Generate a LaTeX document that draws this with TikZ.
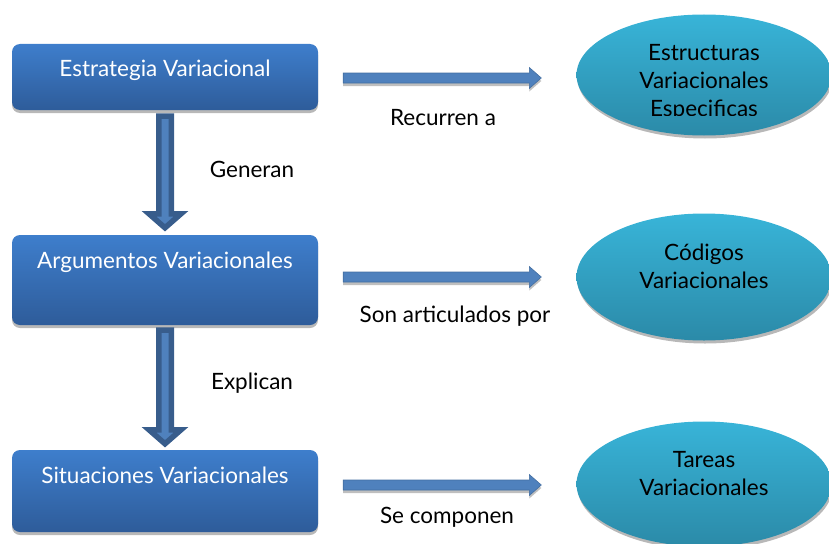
\documentclass[tikz,border=0pt]{standalone}
\usepackage{fontspec}
\setmainfont{Lato}
\usetikzlibrary{calc,shadows,shapes.geometric}
\definecolor{boxtop}{RGB}{62,126,204}
\definecolor{boxbot}{RGB}{46,92,154}
\definecolor{elltop}{RGB}{56,180,216}
\definecolor{ellbot}{RGB}{43,138,168}
\definecolor{arrfill}{RGB}{79,129,189}
\definecolor{arrdraw}{RGB}{56,93,140}
\tikzset{
  vbox/.style={rectangle, rounded corners=8pt, minimum width=306pt, inner sep=0pt,
    top color=boxtop, bottom color=boxbot, draw=none,
    drop shadow={shadow xshift=0pt, shadow yshift=-3pt, fill=black!28, opacity=1}},
  boxtext/.style={text=white, font=\fontsize{22.5}{27}\selectfont, inner sep=0pt},
  ell/.style={ellipse, minimum width=255pt, inner sep=0pt,
    top color=elltop, bottom color=ellbot, draw=none,
    drop shadow={shadow xshift=1pt, shadow yshift=-3pt, fill=black!28, opacity=1}},
  elltext/.style={text=black, align=center, font=\fontsize{22.5}{28}\selectfont, inner sep=0pt, anchor=north},
  lbl/.style={text=black, font=\fontsize{22.5}{27}\selectfont, inner sep=0pt},
  vfatstyle/.style={fill=arrfill, draw=arrdraw, line width=5.5pt, line join=miter},
  hfatstyle/.style={fill=arrfill, draw=arrfill!85!black, line width=0.6pt,
    drop shadow={shadow xshift=0pt, shadow yshift=-3pt, fill=black!25, opacity=1}},
}
\newcommand\vfat[2]{\path[vfatstyle] let \p1=(#1), \p2=(#2) in
  (\x1-6.25pt,\y1) -- (\x1+6.25pt,\y1) -- (\x1+6.25pt,\y2+16pt) -- (\x1+16pt,\y2+16pt)
  -- (\x1,\y2+2pt) -- (\x1-16pt,\y2+16pt) -- (\x1-6.25pt,\y2+16pt) -- cycle;}
\newcommand\hfat[2]{\path[hfatstyle] let \p1=(#1), \p2=(#2) in
  (\x1,\y1+5pt) -- (\x2-12pt,\y1+5pt) -- (\x2-12pt,\y1+10.5pt) -- (\x2,\y1)
  -- (\x2-12pt,\y1-10.5pt) -- (\x2-12pt,\y1-5pt) -- (\x1,\y1-5pt) -- cycle;}
\begin{document}
\begin{tikzpicture}[x=1pt,y=-1pt]
\useasboundingbox (0,0) rectangle (829,543);
% boxes
\node[vbox, minimum height=66pt] (b1) at (165,77) {};
\node[vbox, minimum height=90pt] (b2) at (165,280) {};
\node[vbox, minimum height=82pt] (b3) at (165,491) {};
\node[boxtext] (t1) at ([yshift=-26pt]b1.north) {Estrategia Variacional};
\node[boxtext] (t2) at ([yshift=-27pt]b2.north) {Argumentos Variacionales};
\node[boxtext] (t3) at ([yshift=-25pt]b3.north) {Situaciones Variacionales};
% ellipses
\node[ell, minimum height=121pt] (e1) at (704,75) {};
\node[ell, minimum height=127pt] (e2) at (704,277) {};
\node[ell, minimum height=125pt] (e3) at (704,484) {};
\begin{scope}
  \clip (560,0) rectangle (829,115);
  \node[elltext] (et1) at ([yshift=-30pt]e1.north) {Estructuras\\Variacionales\\Especificas};
\end{scope}
\node[elltext] (et2) at ([yshift=-30pt]e2.north) {Códigos\\Variacionales};
\node[elltext] (et3) at ([yshift=-30pt]e3.north) {Tareas\\Variacionales};
% vertical arrows
\coordinate (v1s) at ([yshift=-6pt]b1.south);
\coordinate (v1e) at ([yshift=5pt]b2.north);
\coordinate (v2s) at ([yshift=-5pt]b2.south);
\coordinate (v2e) at ([yshift=4pt]b3.north);
\vfat{v1s}{v1e}
\vfat{v2s}{v2e}
% horizontal arrows
\coordinate (h1s) at ($(b1.east |- e1.west)+(25,3)$);
\coordinate (h1e) at ($(e1.west)+(-35,3)$);
\coordinate (h2s) at ($(b2.east |- e2.west)+(25,0)$);
\coordinate (h2e) at ($(e2.west)+(-35,0)$);
\coordinate (h3s) at ($(b3.east |- e3.west)+(25,1)$);
\coordinate (h3e) at ($(e3.west)+(-35,1)$);
\hfat{h1s}{h1e}
\hfat{h2s}{h2e}
\hfat{h3s}{h3e}
% labels
\node[lbl] (l1) at (443,118) {Recurren a};
\node[lbl] (l2) at (252,169) {Generan};
\node[lbl] (l3) at (455,316) {Son articulados por};
\node[lbl] (l4) at (252,383) {Explican};
\node[lbl] (l5) at (447,517) {Se componen};
\end{tikzpicture}
\end{document}
